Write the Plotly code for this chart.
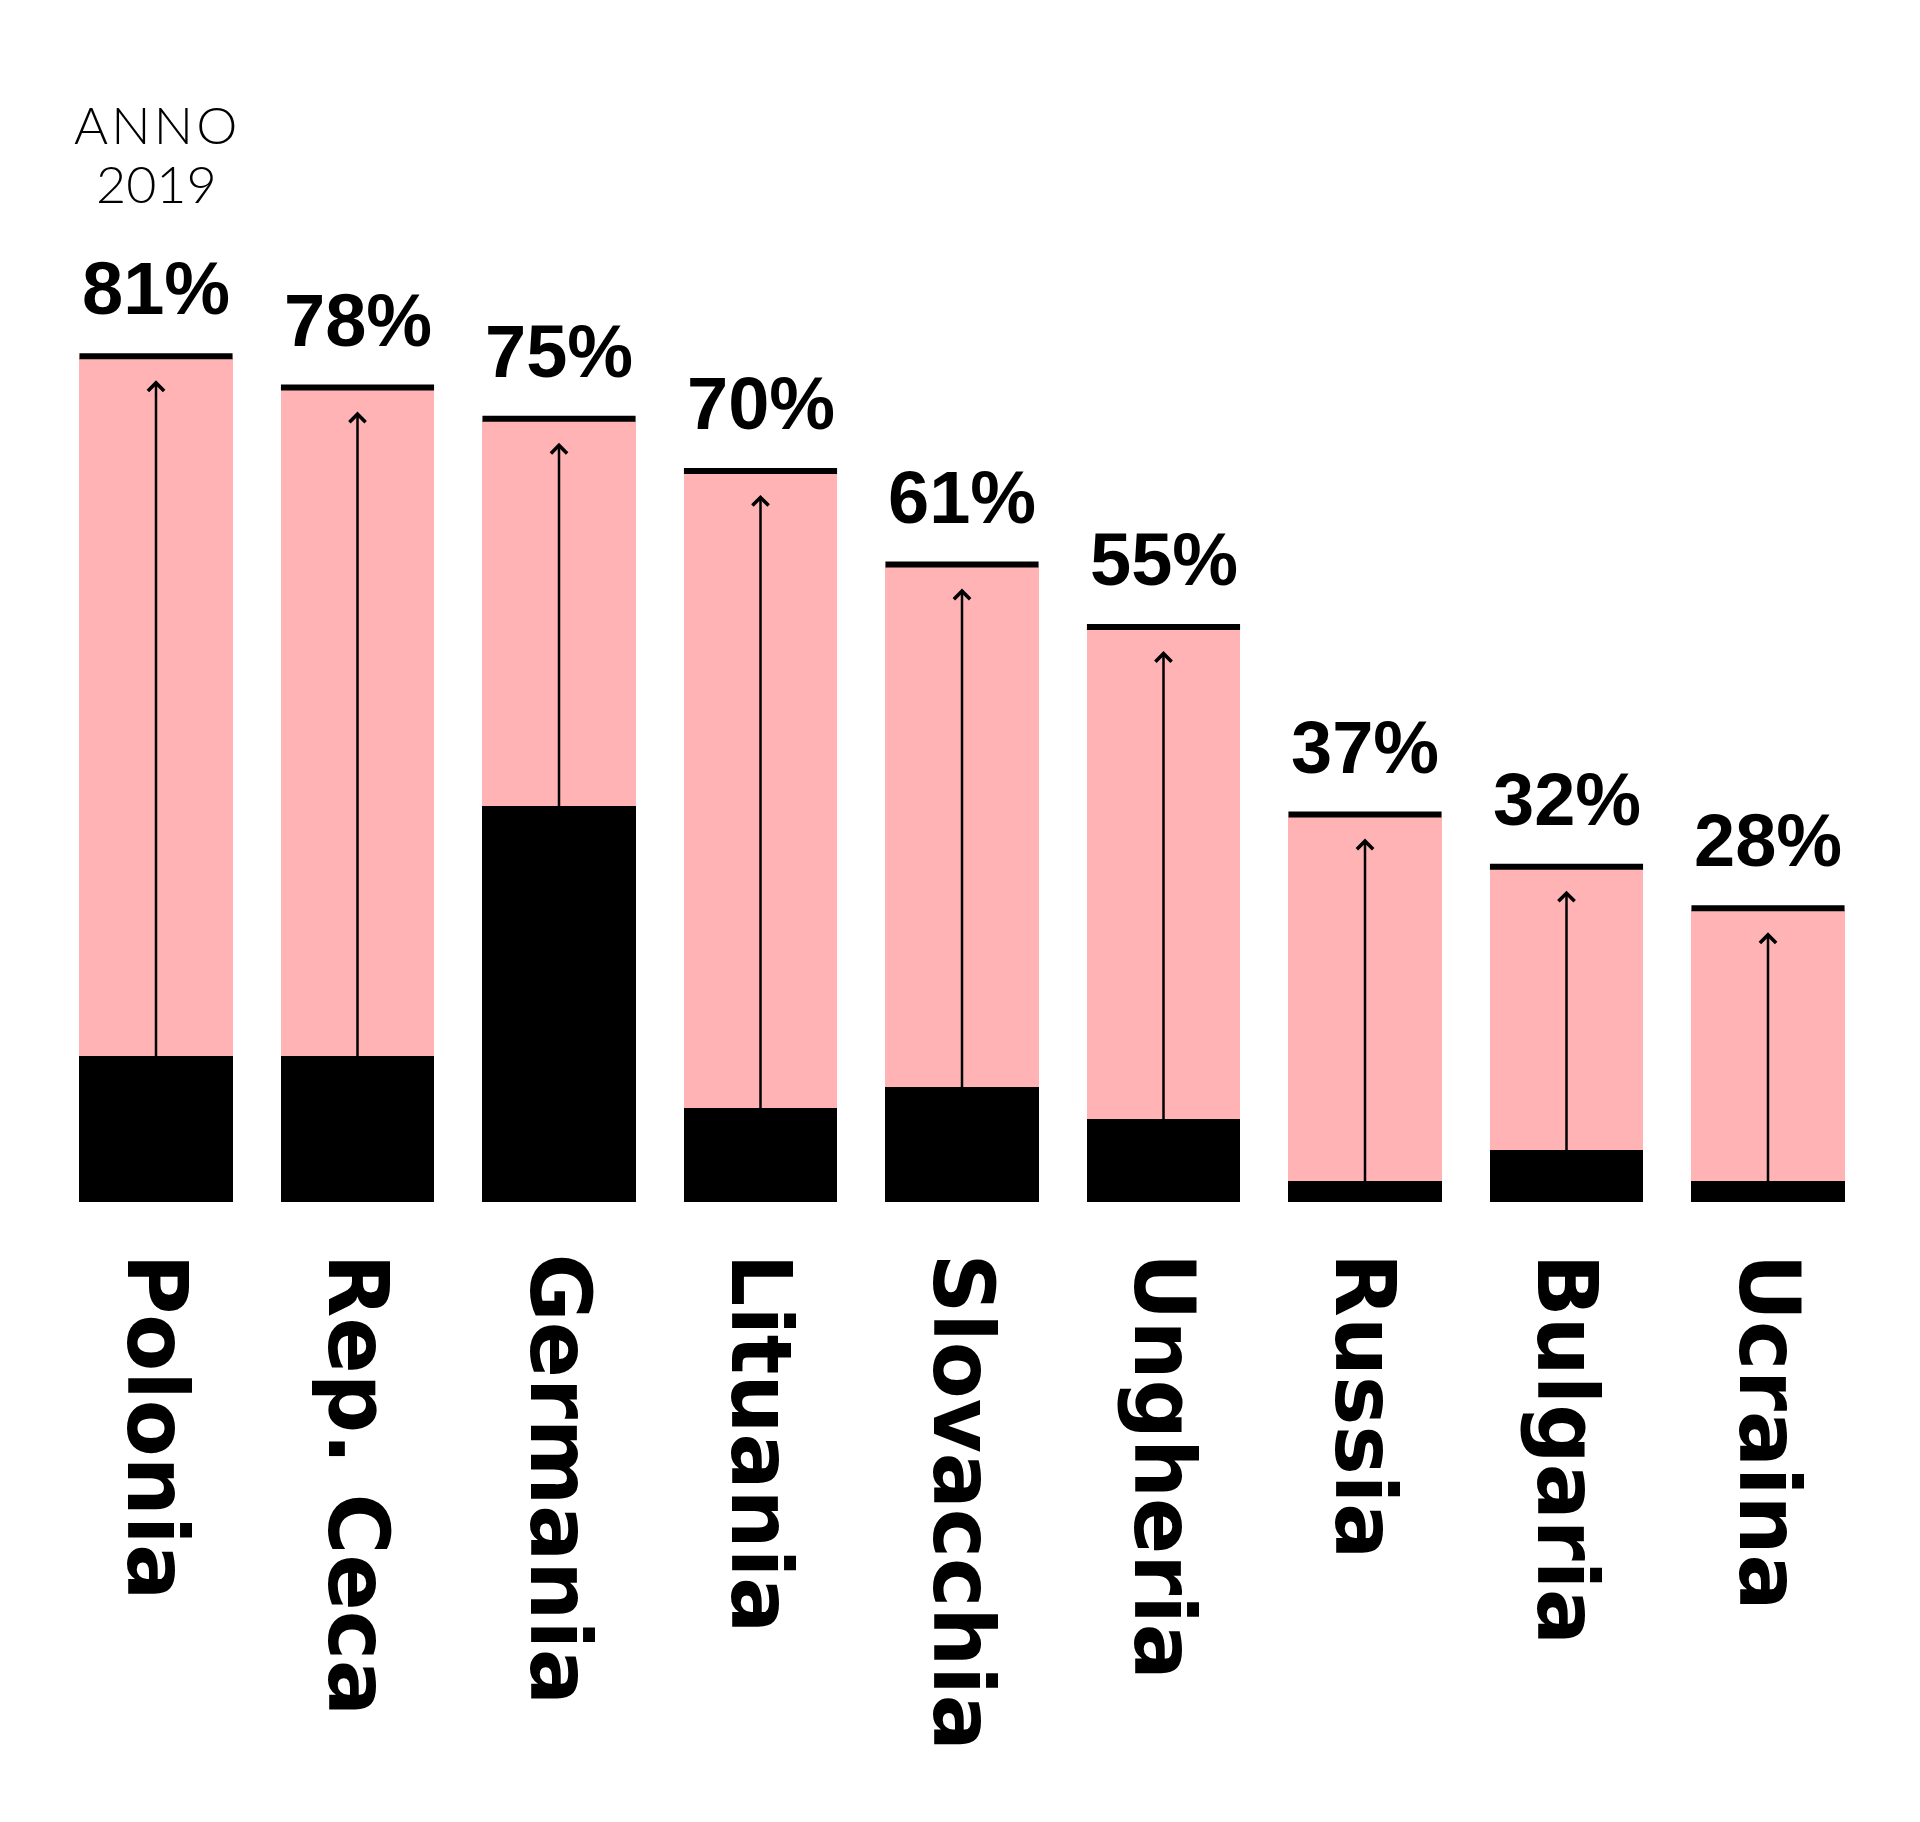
import plotly.graph_objects as go

countries = ["Polonia", "Rep. Ceca", "Germania", "Lituania", "Slovacchia",
             "Ungheria", "Russia", "Bulgaria", "Ucraina"]
totals = [81, 78, 75, 70, 61, 55, 37, 32, 28]
base = [14, 14, 38, 9, 11, 8, 2, 5, 2]
pct_labels = [f"{t}%" for t in totals]
title_lines = ["A\u200aN\u200aN\u200aO", "2019"]

PINK = "#FFB3B5"
BAR_W = 0.76
W, H = 1920, 1822
PX_PER_UNIT = 10.416
BASE_PX = 1194
PITCH = 201.5
FIRST_CX = 148

xs = list(range(len(countries)))
rest = [t - b for t, b in zip(totals, base)]

fig = go.Figure()
fig.add_bar(x=xs, y=base, width=BAR_W, marker=dict(color="black", line_width=0),
            hoverinfo="skip")
fig.add_bar(x=xs, y=rest, width=BAR_W, marker=dict(color=PINK, line_width=0),
            hoverinfo="skip")

shapes = []
annotations = []
for i, t in zip(xs, totals):
    shapes.append(dict(type="rect", xref="x", yref="y", x0=i - BAR_W / 2, x1=i + BAR_W / 2,
                       ysizemode="pixel", yanchor=t, y0=-1, y1=5,
                       fillcolor="black", line_width=0, layer="above"))
    annotations.append(dict(x=i, y=t, ax=i, ay=0, xref="x", yref="y", axref="x", ayref="y",
                            text="", showarrow=True, arrowhead=4, arrowsize=1.25,
                            arrowwidth=2.5, arrowcolor="black", standoff=22))
for i, t, lab in zip(xs, totals, pct_labels):
    annotations.append(dict(x=i, y=t, xref="x", yref="y", text=lab, showarrow=False,
                            yanchor="bottom", xanchor="center", yshift=26,
                            font=dict(family="Liberation Sans", size=74, color="black", weight="bold")))
for i, c in zip(xs, countries):
    annotations.append(dict(x=i, y=0, xref="x", yref="y", text=c, showarrow=False,
                            textangle=90, yanchor="top", xanchor="center", yshift=-49,
                            font=dict(family="DejaVu Sans", size=83, color="black", weight="bold")))

for line, top in zip(title_lines, [83, 142]):
    annotations.append(dict(x=0, y=1 - top / H, xref="x", yref="paper", text=line,
                            showarrow=False, yanchor="top", xanchor="center",
                            font=dict(family="Lato", size=52, color="black", weight=300)))

x_lo = -FIRST_CX / PITCH
x_hi = x_lo + W / PITCH
y_hi = BASE_PX / PX_PER_UNIT
y_lo = -(H - BASE_PX) / PX_PER_UNIT

fig.update_layout(
    width=W, height=H, barmode="stack", showlegend=False,
    margin=dict(l=0, r=0, t=0, b=0), paper_bgcolor="white", plot_bgcolor="white",
    xaxis=dict(range=[x_lo, x_hi], visible=False, fixedrange=True),
    yaxis=dict(range=[y_lo, y_hi], visible=False, fixedrange=True),
    shapes=shapes, annotations=annotations,
)
fig.write_html("out.html")
